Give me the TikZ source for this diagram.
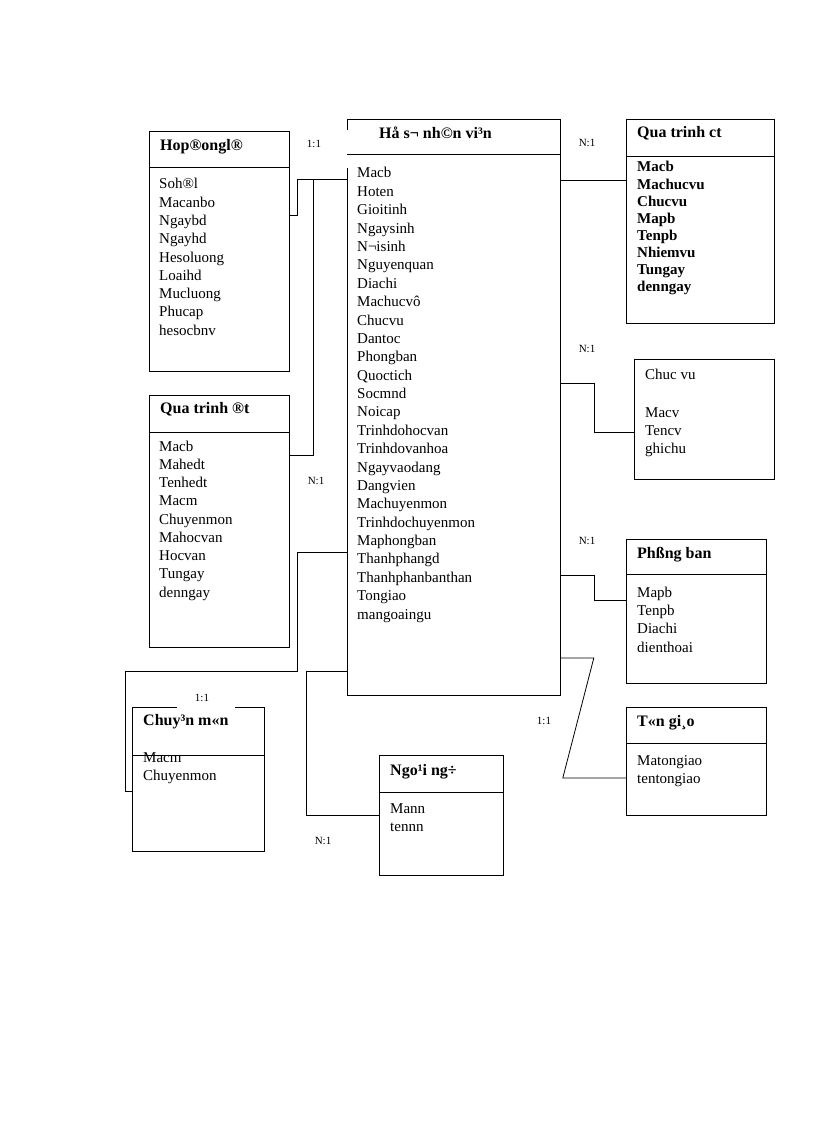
\documentclass[tikz,border=0pt]{standalone}
\usepackage{fontspec}
\setmainfont{Liberation Serif}
\usetikzlibrary{calc}

\tikzset{
  entity/.style={line width=.8pt, anchor=north west, inner sep=0pt},
  field/.style={anchor=base west, inner sep=0pt, font=\fontsize{15}{18}\selectfont},
  head/.style={field, font=\fontsize{16}{18}\selectfont\bfseries},
  bfield/.style={field, font=\fontsize{15}{18}\selectfont\bfseries},
  card/.style={anchor=base, inner sep=0pt, font=\fontsize{11}{13}\selectfont},
  link/.style={line width=.8pt}
}

\begin{document}
\begin{tikzpicture}[x=1pt, y=-1pt]
\useasboundingbox (0,0) rectangle (816,1123);

% tables
\node (hs) at (347,119) [entity, minimum width=213, minimum height=576] {};
\node (hd) at (149,131) [entity, draw, minimum width=140, minimum height=240] {};
\node (dt) at (149,395) [entity, draw, minimum width=140, minimum height=252] {};
\node (ct) at (626,119) [entity, draw, minimum width=148, minimum height=204] {};
\node (cv) at (634,359) [entity, draw, minimum width=140, minimum height=120] {};
\node (pb) at (626,539) [entity, draw, minimum width=140, minimum height=144] {};
\node (tg) at (626,707) [entity, draw, minimum width=140, minimum height=108] {};
\node (cm) at (132,707) [entity, minimum width=132, minimum height=144] {};
\node (nn) at (379,755) [entity, draw, minimum width=124, minimum height=120] {};

\draw [link] ($(hs.north west)+(0,11)$) -- (hs.north west) -- (hs.north east)
    -- (hs.south east) -- (hs.south west) -- ($(hs.south west)+(0,-528)$);
\draw [link] (177,707) -- (cm.north west) -- (cm.south west) -- (cm.south east)
    -- (cm.north east) -- (235,707);

\foreach \b/\y in {hs/154, hd/167, dt/432, ct/156, pb/574, tg/743, cm/755, nn/792}
    \draw [link] (\b.west |- 0,\y) -- (\b.east |- 0,\y);

% headers
\node (hsh) at (379,139) [head] {Hå s¬ nh©n vi³n};
\node (hdh) at (160,151) [head] {Hop®ongl®};
\node (dth) at (160,413) [head] {Qua trinh ®t};
\node (cth) at (637,138) [head] {Qua trinh ct};
\node (cvh) at (645,379) [field] {Chuc vu};
\node (pbh) at (637,558) [head] {Phßng ban};
\node (tgh) at (637,726) [head] {T«n gi¸o};
\node (cmh) at (143,725) [head] {Chuy³n m«n};
\node (nnh) at (390,775) [head] {Ngo¹i ng÷};

% fields
\foreach \t [count=\i] in {Macb, Hoten, Gioitinh, Ngaysinh, N¬isinh, Nguyenquan,
    Diachi, Machucvô, Chucvu, Dantoc, Phongban, Quoctich, Socmnd, Noicap,
    Trinhdohocvan, Trinhdovanhoa, Ngayvaodang, Dangvien, Machuyenmon,
    Trinhdochuyenmon, Maphongban, Thanhphangd, Thanhphanbanthan, Tongiao, mangoaingu}
    \node (hs\i) at (357,{178+18.375*(\i-1)}) [field] {\t};

\foreach \t [count=\i] in {Soh®l, Macanbo, Ngaybd, Ngayhd, Hesoluong, Loaihd,
    Mucluong, Phucap, hesocbnv}
    \node (hd\i) at (159,{189+18.25*(\i-1)}) [field] {\t};

\foreach \t [count=\i] in {Macb, Mahedt, Tenhedt, Macm, Chuyenmon, Mahocvan,
    Hocvan, Tungay, denngay}
    \node (dt\i) at (159,{451+18.25*(\i-1)}) [field] {\t};

\foreach \t [count=\i] in {Macb, Machucvu, Chucvu, Mapb, Tenpb, Nhiemvu, Tungay, denngay}
    \node (ct\i) at (637,{172+17.1*(\i-1)}) [bfield] {\t};

\foreach \t [count=\i] in {Macv, Tencv, ghichu}
    \node (cv\i) at (645,{417+18.4*(\i-1)}) [field] {\t};

\foreach \t [count=\i] in {Mapb, Tenpb, Diachi, dienthoai}
    \node (pb\i) at (637,{597+18.4*(\i-1)}) [field] {\t};

\foreach \t [count=\i] in {Matongiao, tentongiao}
    \node (tg\i) at (637,{765+18.4*(\i-1)}) [field] {\t};

\foreach \t [count=\i] in {Macm, Chuyenmon}
    \node (cm\i) at (143,{762+18.4*(\i-1)}) [field] {\t};

\foreach \t [count=\i] in {Mann, tennn}
    \node (nn\i) at (390,{813+18.4*(\i-1)}) [field] {\t};

% links
\draw [link] (hd.east |- 0,215) -- ++(8,0) |- (hs.west |- 0,179);
\draw [link] (dt.east |- 0,455) -- ++(24,0) |- (hs.west |- 0,179);
\draw [link] (hs.east |- 0,180) -- (ct.west |- 0,180);
\draw [link] (hs.east |- 0,383) -- ++(34,0) |- (cv.west |- 0,432);
\draw [link] (hs.east |- 0,575) -- ++(34,0) |- (pb.west |- 0,600);
\draw [link] (hs.east |- 0,658) -- ++(33,0) -- ++(-31,120) -- (tg.west |- 0,778);
\draw [link] (hs.west |- 0,552) -- ++(-50,0) |- (125,671) -- ++(0,120) -- (cm.west |- 0,791);
\draw [link] (hs.west |- 0,671) -- ++(-41,0) |- (nn.west |- 0,815);

% cardinalities
\node (c1) at (314,148) [card] {1:1};
\node (c2) at (316,484) [card] {N:1};
\node (c3) at (587,147) [card] {N:1};
\node (c4) at (587,352) [card] {N:1};
\node (c5) at (587,544) [card] {N:1};
\node (c6) at (202,701) [card] {1:1};
\node (c7) at (544,724) [card] {1:1};
\node (c8) at (323,844) [card] {N:1};

\end{tikzpicture}
\end{document}
